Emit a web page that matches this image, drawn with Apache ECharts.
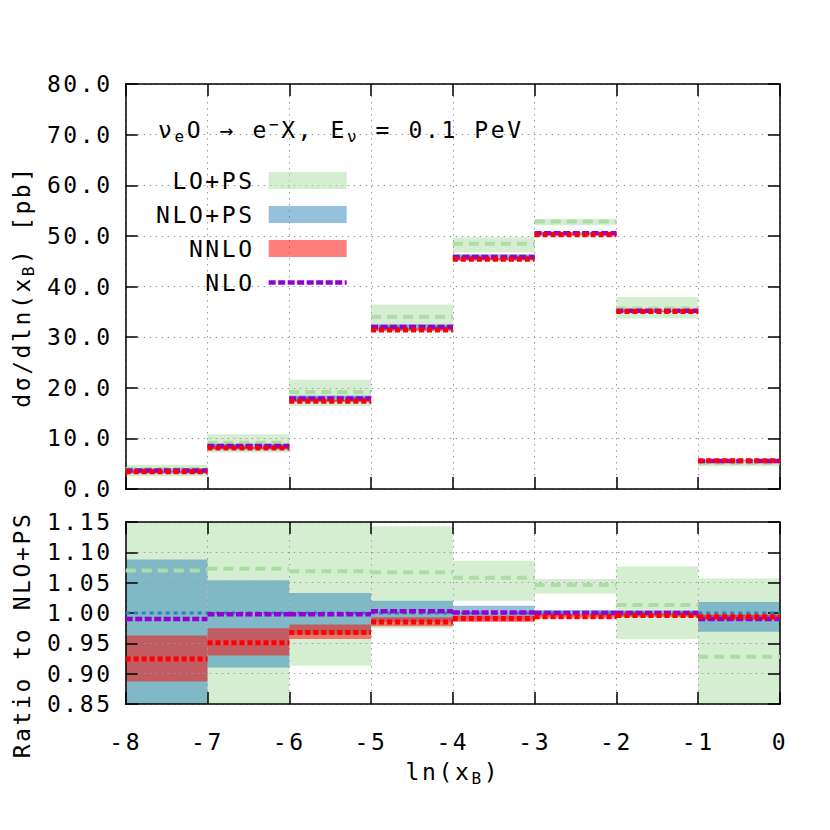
<!DOCTYPE html>
<html><head><meta charset="utf-8">
<script src="https://cdn.jsdelivr.net/npm/echarts@6/dist/echarts.min.js"></script>
<style>
html,body{margin:0;padding:0;background:#fff;}
#main{width:830px;height:830px;}
#main text{letter-spacing:2.6px;}
</style></head><body><div id="main"></div>
<script>
// ---------------- data ----------------
const binEdges = [-8, -7, -6, -5, -4, -3, -2, -1, 0];
// Top panel: dσ/dln(x_B) [pb]
const loCentral    = [3.96, 9.12, 19.14, 34.04, 48.46, 52.82, 35.66, 5.20];
const loLow        = [2.50, 7.20, 16.40, 31.10, 46.72, 52.12, 33.69, 4.50];
const loHigh       = [4.80, 10.80, 21.60, 36.46, 49.74, 53.33, 37.91, 5.92];
const nloPsCentral = [3.70, 8.50, 17.90, 31.90, 45.80, 50.50, 35.20, 5.60];
const nloPsLow     = [3.03, 7.74, 17.27, 31.42, 45.25, 50.30, 35.06, 5.43];
const nloPsHigh    = [4.03, 8.96, 18.49, 32.54, 46.35, 50.75, 35.34, 5.70];
const nnloCentral  = [3.42, 8.08, 17.33, 31.42, 45.39, 50.20, 35.06, 5.57];
const nnloLow      = [3.28, 7.91, 17.13, 31.20, 45.11, 50.05, 34.95, 5.54];
const nnloHigh     = [3.56, 8.29, 17.56, 31.68, 45.62, 50.40, 35.16, 5.58];
const nloCentral   = [3.66, 8.48, 17.86, 32.00, 45.85, 50.50, 35.20, 5.54];
// Ratio panel: ratio to NLO+PS
const loRatio        = [1.070, 1.073, 1.069, 1.067, 1.058, 1.046, 1.013, 0.928];
const loRatioLow     = [0.680, 0.847, 0.913, 0.975, 1.020, 1.032, 0.957, 0.800];
const loRatioHigh    = [1.300, 1.270, 1.207, 1.143, 1.086, 1.056, 1.077, 1.057];
const nloPsRatio     = [1.000, 1.000, 1.000, 1.000, 1.000, 1.000, 1.000, 1.000];
const nloPsRatioLow  = [0.820, 0.910, 0.965, 0.985, 0.988, 0.996, 0.996, 0.969];
const nloPsRatioHigh = [1.088, 1.054, 1.033, 1.020, 1.012, 1.005, 1.004, 1.018];
const nnloRatio      = [0.924, 0.951, 0.968, 0.985, 0.991, 0.994, 0.996, 0.994];
const nnloRatioLow   = [0.887, 0.930, 0.957, 0.978, 0.985, 0.991, 0.993, 0.989];
const nnloRatioHigh  = [0.963, 0.975, 0.981, 0.993, 0.996, 0.998, 0.999, 0.997];
const nloRatio       = [0.990, 0.998, 0.998, 1.003, 1.001, 1.000, 1.000, 0.990];

// ---------------- text measuring with letter spacing ----------------
const LS = 2.6;
const FONT = 'DejaVu Sans Mono';
const FS = 23, SUB = 16;
(function () {
  const c = document.createElement('canvas').getContext('2d');
  if (echarts.setPlatformAPI) {
    echarts.setPlatformAPI({
      measureText: function (text, font) {
        c.font = font || '12px sans-serif';
        const t = text == null ? '' : String(text);
        const m = c.measureText(t);
        const extra = (t && t !== '国') ? LS * Array.from(t).length : 0;
        return {
          width: m.width + extra,
          actualBoundingBoxAscent: m.actualBoundingBoxAscent,
          actualBoundingBoxDescent: m.actualBoundingBoxDescent,
          actualBoundingBoxLeft: m.actualBoundingBoxLeft,
          actualBoundingBoxRight: m.actualBoundingBoxRight + extra,
          fontBoundingBoxAscent: m.fontBoundingBoxAscent,
          fontBoundingBoxDescent: m.fontBoundingBoxDescent
        };
      }
    });
  }
})();

// ---------------- helpers ----------------
const GREEN = '#abdda4', BLUE = '#2b83ba', RED = '#ff0000', PURPLE = '#9400d3';
const GREEN_FILL = 'rgba(171,221,164,0.5)', BLUE_FILL = 'rgba(43,131,186,0.5)', RED_FILL = 'rgba(255,0,0,0.5)';

function bandData(low, high) {
  return low.map((l, i) => [binEdges[i], binEdges[i + 1], l, high[i]]);
}
function stepData(vals) {
  const d = [];
  vals.forEach((v, i) => {
    d.push([binEdges[i], v]);
    d.push([binEdges[i + 1], v]);
    d.push([binEdges[i + 1], '-']);
  });
  return d;
}
function band(name, gi, low, high, color) {
  return {
    type: 'custom', name: name, xAxisIndex: gi * 2, yAxisIndex: gi * 2,
    data: bandData(low, high), clip: true, z: 1, silent: true,
    itemStyle: { color: color },
    encode: { x: [0, 1], y: [2, 3] },
    renderItem: function (params, api) {
      const a = api.coord([api.value(0), api.value(3)]);
      const b = api.coord([api.value(1), api.value(2)]);
      return { type: 'rect', shape: { x: a[0], y: a[1], width: b[0] - a[0], height: b[1] - a[1] }, style: { fill: color } };
    }
  };
}
function line(name, gi, vals, color, width, dash, z) {
  return {
    type: 'line', name: name, xAxisIndex: gi * 2, yAxisIndex: gi * 2,
    data: stepData(vals), symbol: 'none', showSymbol: false, silent: true, z: z,
    connectNulls: false,
    lineStyle: { color: color, width: width, type: dash, cap: 'butt' },
    itemStyle: { color: color }
  };
}

const axisLine = { show: true, onZero: false, lineStyle: { color: '#000', width: 1.5 } };
const axisTick = { show: true, inside: true, length: 12, lineStyle: { color: '#000', width: 1.5 } };
const gridLine = { show: true, lineStyle: { color: '#9a9a9a', width: 1, type: [1.5, 4.5] } };
const labelStyle = { fontFamily: FONT, fontSize: FS, color: '#000' };
function nameStyle(pad) {
  return {
    fontFamily: FONT, fontSize: FS, color: '#000', lineHeight: 28, padding: pad || 0,
    rich: { s: { fontFamily: FONT, fontSize: SUB, lineHeight: SUB, verticalAlign: 'bottom', color: '#000' } }
  };
}

function xAx(gi, pos, opts) {
  return Object.assign({
    type: 'value', gridIndex: gi, position: pos, min: -8, max: 0, interval: 1, z: 3,
    axisLine: axisLine, axisTick: axisTick,
    axisLabel: { show: false }, splitLine: { show: false }
  }, opts || {});
}
function yAx(gi, pos, min, max, interval, opts) {
  return Object.assign({
    type: 'value', gridIndex: gi, position: pos, min: min, max: max, interval: interval, z: 3,
    axisLine: axisLine, axisTick: axisTick,
    axisLabel: { show: false }, splitLine: { show: false }
  }, opts || {});
}

const chart = echarts.init(document.getElementById('main'), null, { renderer: 'svg', width: 830, height: 830 });
chart.setOption({
  animation: false,
  backgroundColor: '#fff',
  textStyle: { fontFamily: FONT },
  title: {
    text: 'ν{s|e}O → e{p|−}X, E{s|ν} = 0.1 PeV',
    left: 158, top: 116, padding: 0,
    textStyle: {
      fontFamily: FONT, fontSize: FS, fontWeight: 'normal', color: '#000', lineHeight: 28,
      rich: {
        s: { fontFamily: FONT, fontSize: SUB, lineHeight: SUB, verticalAlign: 'bottom', color: '#000' },
        p: { fontFamily: FONT, fontSize: SUB, lineHeight: SUB, verticalAlign: 'top', color: '#000' }
      }
    }
  },
  legend: {
    orient: 'vertical', left: 156, top: 169, padding: 0, align: 'right',
    itemWidth: 78, itemHeight: 17, itemGap: 11, selectedMode: false,
    textStyle: { fontFamily: FONT, fontSize: FS, color: '#000', padding: [0, 9, 0, 0] },
    data: [
      { name: 'LO+PS', icon: 'rect', itemStyle: { color: GREEN_FILL } },
      { name: 'NLO+PS', icon: 'rect', itemStyle: { color: BLUE_FILL } },
      { name: 'NNLO', icon: 'rect', itemStyle: { color: RED_FILL } },
      { name: 'NLO', itemStyle: { opacity: 0 }, lineStyle: { color: PURPLE, width: 4.5, type: [7, 2.5] } }
    ]
  },
  grid: [
    { left: 125, right: 50, top: 84, height: 405, containLabel: false },
    { left: 125, right: 50, top: 522, height: 182, containLabel: false }
  ],
  xAxis: [
    xAx(0, 'bottom', { splitLine: gridLine }),
    xAx(0, 'top'),
    xAx(1, 'bottom', {
      splitLine: gridLine,
      axisLabel: Object.assign({ show: true, margin: 26 }, labelStyle),
      name: 'ln(x{s|B})', nameLocation: 'middle', nameGap: 54, nameTextStyle: nameStyle()
    }),
    xAx(1, 'top')
  ],
  yAxis: [
    yAx(0, 'left', 0, 80, 10, {
      splitLine: gridLine,
      axisLabel: Object.assign({ show: true, margin: 13, showMinLabel: true, showMaxLabel: true, formatter: v => v.toFixed(1) }, labelStyle),
      name: 'dσ/dln(x{s|B}) [pb]', nameLocation: 'middle', nameRotate: 90, nameGap: 84, nameTextStyle: nameStyle()
    }),
    yAx(0, 'right', 0, 80, 10),
    yAx(1, 'left', 0.85, 1.15, 0.05, {
      splitLine: gridLine,
      axisLabel: Object.assign({ show: true, margin: 13, showMinLabel: true, showMaxLabel: true, formatter: v => v.toFixed(2) }, labelStyle),
      name: 'Ratio to NLO+PS', nameLocation: 'middle', nameRotate: 90, nameGap: 84, nameTextStyle: nameStyle([0, 44, 0, 0])
    }),
    yAx(1, 'right', 0.85, 1.15, 0.05)
  ],
  series: [
    band('LO+PS', 0, loLow, loHigh, GREEN_FILL),
    band('NLO+PS', 0, nloPsLow, nloPsHigh, BLUE_FILL),
    band('NNLO', 0, nnloLow, nnloHigh, RED_FILL),
    line('LO+PS central', 0, loCentral, GREEN, 4, [10, 6], 4),
    line('NLO+PS central', 0, nloPsCentral, BLUE, 3, [4, 4], 5),
    line('NLO', 0, nloCentral, PURPLE, 4.5, [7, 2.5], 6),
    line('NNLO central', 0, nnloCentral, RED, 5, [5, 3], 7),

    band('LO+PS', 1, loRatioLow, loRatioHigh, GREEN_FILL),
    band('NLO+PS', 1, nloPsRatioLow, nloPsRatioHigh, BLUE_FILL),
    band('NNLO', 1, nnloRatioLow, nnloRatioHigh, RED_FILL),
    line('LO+PS central', 1, loRatio, GREEN, 4, [10, 6], 4),
    line('NLO+PS central', 1, nloPsRatio, BLUE, 3, [4, 4], 5),
    line('NLO', 1, nloRatio, PURPLE, 4.5, [7, 2.5], 6),
    line('NNLO central', 1, nnloRatio, RED, 5, [5, 3], 7)
  ]
});
</script>
</body></html>
